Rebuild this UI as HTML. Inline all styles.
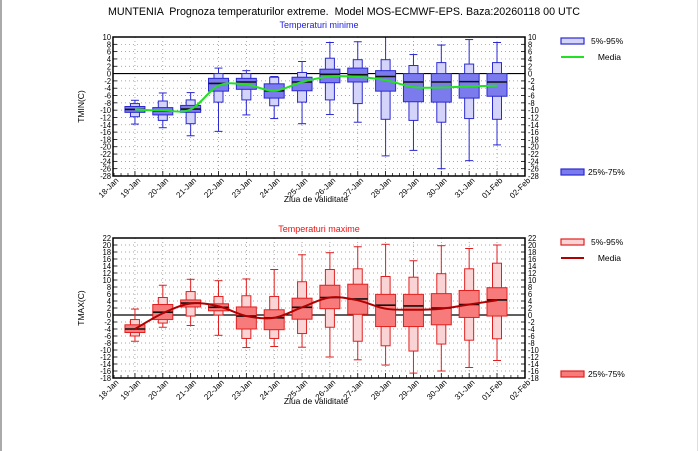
<!DOCTYPE html>
<html><head><meta charset="utf-8"><style>
html,body{margin:0;padding:0;background:#fff}
svg{display:block;font-family:"Liberation Sans",sans-serif}
text{white-space:pre}
</style></head><body>
<svg id="s" width="700" height="451" xmlns="http://www.w3.org/2000/svg">
<rect x="0" y="0" width="700" height="451" fill="#fff"/>
<line x1="1" y1="0" x2="1" y2="451" stroke="#aaa" stroke-width="2"/>
<line x1="697.5" y1="0" x2="697.5" y2="451" stroke="#ddd" stroke-width="1"/>
<text x="108" y="15" font-size="11" textLength="472" lengthAdjust="spacingAndGlyphs" fill="#000">MUNTENIA  Prognoza temperaturilor extreme.  Model MOS-ECMWF-EPS. Baza:20260118 00 UTC</text>
<text x="319" y="28" font-size="9" text-anchor="middle" fill="#2020e0">Temperaturi minime</text>
<text x="319" y="232" font-size="9" text-anchor="middle" fill="#f01010">Temperaturi maxime</text>
<g id="g"></g>
</svg>
<script>
const NS="http://www.w3.org/2000/svg";const g=document.getElementById('g');
function el(t,a,txt){const e=document.createElementNS(NS,t);for(const k in a)e.setAttribute(k,a[k]);if(txt!==undefined)e.textContent=txt;g.appendChild(e);return e;}
const days=["18-Jan","19-Jan","20-Jan","21-Jan","22-Jan","23-Jan","24-Jan","25-Jan","26-Jan","27-Jan","28-Jan","29-Jan","30-Jan","31-Jan","01-Feb","02-Feb"];
const X0=113,X1=525,dx=27.85,x18=107.1;
function dayX(i){return x18+i*dx;}
const tmin=[[-7.3,-13.8,-8.2,-11.8,-9,-10.6,-9.8,-9.8],[-5.3,-14.8,-7.5,-12.8,-9.3,-11.3,-10.3,-10.1],[-5.2,-17,-7.2,-13.7,-8.7,-10.6,-9.7,-9.8],[1.5,-15.8,0,-7.8,-1.3,-4.8,-2.7,-3.3],[0.8,-11.3,0,-7.2,-1.3,-4.3,-2.3,-3],[-0.8,-12.3,-1,-8.8,-2.8,-6.7,-4.7,-4.7],[3.3,-13.7,0.3,-7.8,-1,-4.7,-2.3,-2.3],[8.5,-11.2,4.2,-7.2,1.2,-2.5,-0.2,-0.8],[8.7,-13.3,3.8,-8.2,1.5,-2.3,-0.3,-0.9],[10,-22.5,3.8,-12.5,0.8,-4.8,-0.8,-1.8],[5.2,-21,2.2,-12.8,0,-7.7,-2.3,-3.7],[7.8,-26,3,-13.3,0,-7.8,-2.3,-3.8],[9.3,-23.8,2.6,-12.3,0,-6.7,-2.2,-3.5],[8.5,-19.5,3,-12.5,0,-6.2,-2.3,-3.3]];
const tmax=[[1.7,-7.5,-1.3,-6,-2.8,-5,-4,-4],[8.5,-3.5,5,-2.3,3,-1.3,0.8,0.5],[10.2,-3,6.7,-0.3,4.3,2.3,3.4,3.3],[9.8,-5.8,5.3,0,3.2,1.2,2.2,2.5],[10.3,-9.3,5.5,-6.7,2.3,-4,-0.3,-0.3],[13,-9,5.3,-6.7,1.5,-4.2,-0.8,-0.8],[17.2,-9.2,9.5,-5.3,4.8,-1.2,2.2,2.2],[17.8,-12,13,-3.5,8.5,1.8,5,5],[19.5,-12.8,13.2,-7.5,8.8,0.2,4.6,4.2],[20.2,-14.3,11,-8.8,5.9,-3.3,2.8,1.8],[15.5,-16.6,10.8,-10.3,5.9,-3.3,2.6,1.5],[19.8,-16,11.8,-8.3,6.1,-2.8,2,1.8],[19,-15,13.2,-7.2,7,-0.7,3,3],[20,-13,14.8,-6.8,7.8,-0.3,4.3,4.2]];
function chart(o){
 const {top,bot,vmax,vmin,data,edge,light,dark,meanc,ylab,legY}=o;
 const Y=v=>top+(vmax-v)/(vmax-vmin)*(bot-top);
 for(let v=vmin+2;v<vmax;v+=2)el('line',{x1:X0,x2:X1,y1:Y(v),y2:Y(v),stroke:'#888','stroke-width':0.7,'stroke-dasharray':'1,3'});
 for(let i=1;i<15;i++)el('line',{x1:dayX(i),x2:dayX(i),y1:top,y2:bot,stroke:'#888','stroke-width':0.7,'stroke-dasharray':'1,3'});
 for(let v=vmin;v<=vmax;v+=2){const y=Y(v);
  el('line',{x1:X0,x2:X0+4,y1:y,y2:y,stroke:'#000','stroke-width':0.8});
  el('line',{x1:X1-4,x2:X1,y1:y,y2:y,stroke:'#000','stroke-width':0.8});
  el('text',{x:X0-2,y:y+3,'font-size':8.5,'text-anchor':'end',transform:`translate(${X0-2},0) scale(0.88,1) translate(${-(X0-2)},0)`},String(v));
  el('text',{x:X1+3,y:y+3,'font-size':8.5,transform:`translate(${X1+3},0) scale(0.88,1) translate(${-(X1+3)},0)`},String(v));}
 for(let i=0;i<=15;i++){const x=dayX(i);
  if(x>=X0-0.5){el('line',{x1:x,x2:x,y1:bot,y2:bot-5,stroke:'#000','stroke-width':0.8});}
  for(let k=1;k<4;k++){const xm=x+k*dx/4;if(xm>X0&&xm<X1)el('line',{x1:xm,x2:xm,y1:bot,y2:bot-3,stroke:'#000','stroke-width':0.7});}
  const lx=Math.max(x,X0)+6,ly=bot+5;
  el('text',{x:lx,y:ly,'font-size':8,'text-anchor':'end',transform:`rotate(-45 ${lx} ${ly})`},days[i]);}
 el('line',{x1:X0,x2:X1,y1:Y(0),y2:Y(0),stroke:'#000','stroke-width':1.2});
 data.forEach((d,j)=>{const x=dayX(j+1);
  el('line',{x1:x,x2:x,y1:Y(d[0]),y2:Y(d[1]),stroke:edge,'stroke-width':1});
  el('line',{x1:x-4,x2:x+4,y1:Y(d[0]),y2:Y(d[0]),stroke:edge,'stroke-width':1});
  el('line',{x1:x-4,x2:x+4,y1:Y(d[1]),y2:Y(d[1]),stroke:edge,'stroke-width':1});
  el('rect',{x:x-4.5,y:Y(d[2]),width:9,height:Y(d[3])-Y(d[2]),fill:light,stroke:edge,'stroke-width':1});
  el('rect',{x:x-10,y:Y(d[4]),width:20,height:Y(d[5])-Y(d[4]),fill:dark,stroke:edge,'stroke-width':1});
  el('line',{x1:x-10,x2:x+10,y1:Y(d[6]),y2:Y(d[6]),stroke:'#111','stroke-width':1.6});
 });
 const p=data.map((d,j)=>[dayX(j+1),Y(d[7])]);let s=`M${p[0][0]},${p[0][1]}`;
 for(let i=0;i<p.length-1;i++){const a=p[Math.max(i-1,0)],b=p[i],c=p[i+1],e=p[Math.min(i+2,p.length-1)];
  s+=`C${b[0]+(c[0]-a[0])/6},${b[1]+(c[1]-a[1])/6} ${c[0]-(e[0]-b[0])/6},${c[1]-(e[1]-b[1])/6} ${c[0]},${c[1]}`;}
 el('path',{d:s,fill:'none',stroke:meanc,'stroke-width':2});
 el('rect',{x:X0,y:top,width:X1-X0,height:bot-top,fill:'none',stroke:'#000','stroke-width':1.5});
 const cy=(top+bot)/2;
 el('text',{x:84,y:cy,'font-size':8.5,'text-anchor':'middle',transform:`rotate(-90 84 ${cy})`},ylab);
 el('text',{x:316,y:bot+26,'font-size':8.5,'text-anchor':'middle'},'Ziua de validitate');
 el('rect',{x:561,y:legY[0]-3,width:23,height:6,fill:light,stroke:edge,'stroke-width':1.2});
 el('text',{x:591,y:legY[0]+3,'font-size':8.5},'5%-95%');
 el('line',{x1:561,x2:584,y1:legY[1],y2:legY[1],stroke:meanc,'stroke-width':2});
 el('text',{x:621,y:legY[1]+3,'font-size':8.5,'text-anchor':'end'},'Media');
 el('rect',{x:561,y:legY[2]-3,width:23,height:6,fill:dark,stroke:edge,'stroke-width':1.2});
 el('text',{x:588,y:legY[2]+3,'font-size':8.5},'25%-75%');
}
chart({top:37,bot:176,vmax:10,vmin:-28,data:tmin,edge:'#2a2ad0',light:'#d4d4fa',dark:'#7b7bee',meanc:'#22e022',ylab:'TMIN(C)',legY:[41,57,172]});
chart({top:238,bot:378,vmax:22,vmin:-18,data:tmax,edge:'#e02020',light:'#fad4d4',dark:'#f77b7b',meanc:'#b00000',ylab:'TMAX(C)',legY:[242,258,374]});
</script>
</body></html>
